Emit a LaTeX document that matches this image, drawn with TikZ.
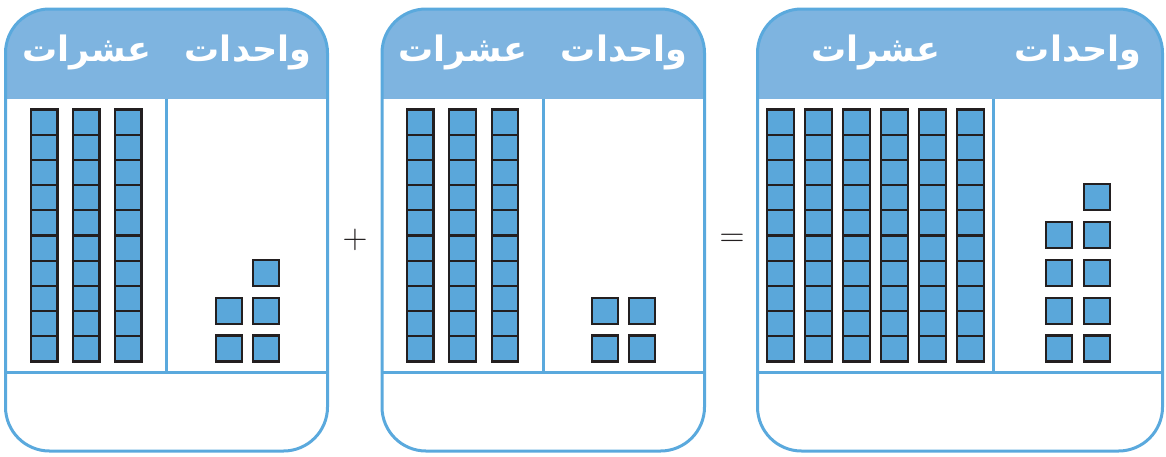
\documentclass[tikz,border=0pt]{standalone}
\usepackage{fontspec}
\usetikzlibrary{positioning}
\newfontfamily\arabicfont[Script=Arabic]{DejaVu Sans}
\TeXXeTstate=1
\definecolor{HeadBlue}{HTML}{7EB4E0}
\definecolor{LineBlue}{HTML}{5AA9DD}
\definecolor{CubeBlue}{HTML}{5AA7DA}
\definecolor{Ink}{HTML}{231F20}
\tikzset{
  frame/.style={LineBlue,line width=1.5pt},
  cube/.style={draw=Ink,fill=CubeBlue,line width=1.1pt},
  head/.style={text=white,font=\arabicfont\bfseries\fontsize{17.5}{21}\selectfont},
  sign/.style={text=Ink,font=\fontsize{16}{19}\selectfont}
}
\newcommand{\RodCell}[2]{%
  \draw[cube] ({#1},{109.5+25.2*#2}) rectangle ++(26.5,25.2);%
}
\newcommand{\UnitCube}[2]{%
  \draw[cube] (#1,#2) rectangle ++(26,26);%
}

\begin{document}
\begin{tikzpicture}[x=0.5pt,y=-0.5pt]
\useasboundingbox (0,0) rectangle (1166,456);
% the three panels
\foreach \l/\r/\d in {5.5/327.5/166.5,382/704.5/543.5,757.5/1162.5/993} {
  \begin{scope}
    \clip[rounded corners=22pt] (\l,9) rectangle (\r,451);
    \fill[HeadBlue] (\l,0) rectangle (\r,98.5);
  \end{scope}
  \draw[frame,rounded corners=22pt] (\l,9) rectangle (\r,451);
  \draw[frame] (\d,98.5) -- (\d,372.5);
  \draw[frame] (\l,372.5) -- (\r,372.5);
}
\node[head] (tens1) at (87,52) {\beginR عشرات\endR};
\node[head] (ones1) at (248,52) {\beginR واحدات\endR};
\node[head] (tens2) at (463,52) {\beginR عشرات\endR};
\node[head] (ones2) at (624,52) {\beginR واحدات\endR};
\node[head] (tens3) at (876,52) {\beginR عشرات\endR};
\node[head] (ones3) at (1078,52) {\beginR واحدات\endR};
% tens rods
\foreach \x in {31,73,115,407,449.3,491.7,767.3,805.3,843.3,881.3,919.3,957.3} {
  \foreach \k in {0,...,9} {
    \RodCell{\x}{\k}
  }
}
% ones
\foreach \x/\y in {215.7/335.5,253.3/335.5,215.7/297.7,253.3/297.7,253.3/260,
                   591.7/335.5,629.3/335.5,591.7/297.7,629.3/297.7,
                   1045.7/335.5,1083.7/335.5,1045.7/297.7,1083.7/297.7,
                   1045.7/260,1083.7/260,1045.7/222.3,1083.7/222.3,1083.7/184} {
  \UnitCube{\x}{\y}
}
\node[sign] (plus) at (355,240) {$+$};
\node[sign] (equals) at (732,240) {$=$};
\end{tikzpicture}
\end{document}
